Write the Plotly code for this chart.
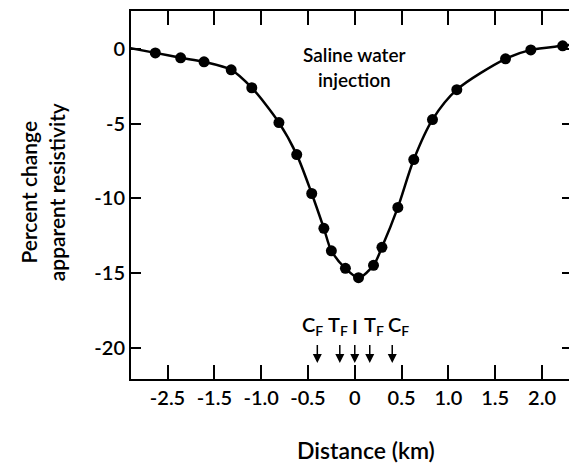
import plotly.graph_objects as go

# Data
distance_km = [-2.13, -1.86, -1.61, -1.32, -1.10, -0.81, -0.62, -0.46, -0.33, -0.25,
               -0.10, 0.04, 0.20, 0.29, 0.46, 0.63, 0.83, 1.09, 1.61, 1.88, 2.22]
pct_change = [-0.27, -0.6, -0.87, -1.4, -2.6, -4.93, -7.07, -9.67, -12.0, -13.5,
              -14.67, -15.3, -14.47, -13.27, -10.6, -7.4, -4.73, -2.73, -0.67, -0.07, 0.2]
# smooth curve continues to the frame edges
curve_x = [-2.40] + distance_km + [2.34]
curve_y = [0.05] + pct_change + [0.3]

x_tickvals = [-2.0, -1.5, -1.0, -0.5, 0, 0.5, 1.0, 1.5, 2.0]
x_ticktext = ["-2.5", "-1.5", "-1.0", "-0.5", "0", "0.5", "1.0", "1.5", "2.0"]
y_tickvals = [0, -5, -10, -15, -20]
y_ticktext = ["0", "-5", "-10", "-15", "-20"]

arrow_x = [-0.40, -0.16, 0.0, 0.16, 0.40]
label_x = [-0.45, -0.18, 0.0, 0.21, 0.47]
marker_labels = ["C<sub>F</sub>", "T<sub>F</sub>", "I", "T<sub>F</sub>", "C<sub>F</sub>"]

FONT = "Lato, 'Liberation Sans', sans-serif"
W = 600

fig = go.Figure()
fig.add_trace(go.Scatter(x=curve_x, y=curve_y, mode="lines",
                         line=dict(color="black", width=2.5, shape="spline", smoothing=0.8),
                         hoverinfo="skip", showlegend=False))
fig.add_trace(go.Scatter(x=distance_km, y=pct_change, mode="markers",
                         marker=dict(color="black", size=11), showlegend=False))

anns = []
for xv in arrow_x:
    anns.append(dict(x=xv, y=-21.0, ax=xv, ay=-19.7, xref="x", yref="y", axref="x", ayref="y",
                     showarrow=True, arrowhead=2, arrowsize=1.2, arrowwidth=1.5,
                     arrowcolor="black", text=""))
for xv, lab in zip(label_x, marker_labels):
    anns.append(dict(x=xv, y=-18.5, xref="x", yref="y", showarrow=False, text=lab,
                     font=dict(family=FONT, size=20, color="black", weight=W)))
anns.append(dict(x=0.0, y=-1.2, xref="x", yref="y", showarrow=False,
                 text="Saline water<br>injection",
                 font=dict(family=FONT, size=19, color="black", weight=W)))
anns.append(dict(x=-0.200, y=0.507, xref="paper", yref="paper", showarrow=False,
                 xanchor="center", yanchor="middle",
                 text="Percent change<br>apparent resistivity", textangle=-90,
                 font=dict(family=FONT, size=21, color="black", weight=W)))
anns.append(dict(x=0.533, y=-0.192, xref="paper", yref="paper", showarrow=False,
                 xanchor="center", yanchor="middle",
                 text="Distance (km)", font=dict(family=FONT, size=23, color="black", weight=W)))

fig.update_layout(
    width=569, height=460,
    margin=dict(l=123, r=5, t=3, b=89),
    paper_bgcolor="white", plot_bgcolor="white",
    annotations=anns,
    xaxis=dict(range=[-2.39, 2.32], tickvals=x_tickvals, ticktext=x_ticktext,
               ticks="inside", ticklen=14, tickwidth=1.5, tickcolor="black",
               showline=True, linecolor="black", linewidth=2, mirror="ticks",
               showgrid=False, zeroline=False, automargin=False,
               tickfont=dict(family=FONT, size=20, color="black", weight=W)),
    yaxis=dict(range=[-22.07, 2.53], tickvals=y_tickvals, ticktext=y_ticktext,
               ticks="inside", ticklen=10, tickwidth=1.5, tickcolor="black",
               showline=True, linecolor="black", linewidth=2, mirror="ticks",
               showgrid=False, zeroline=False, automargin=False,
               tickfont=dict(family=FONT, size=20, color="black", weight=W)),
)

fig.write_html("out.html")
